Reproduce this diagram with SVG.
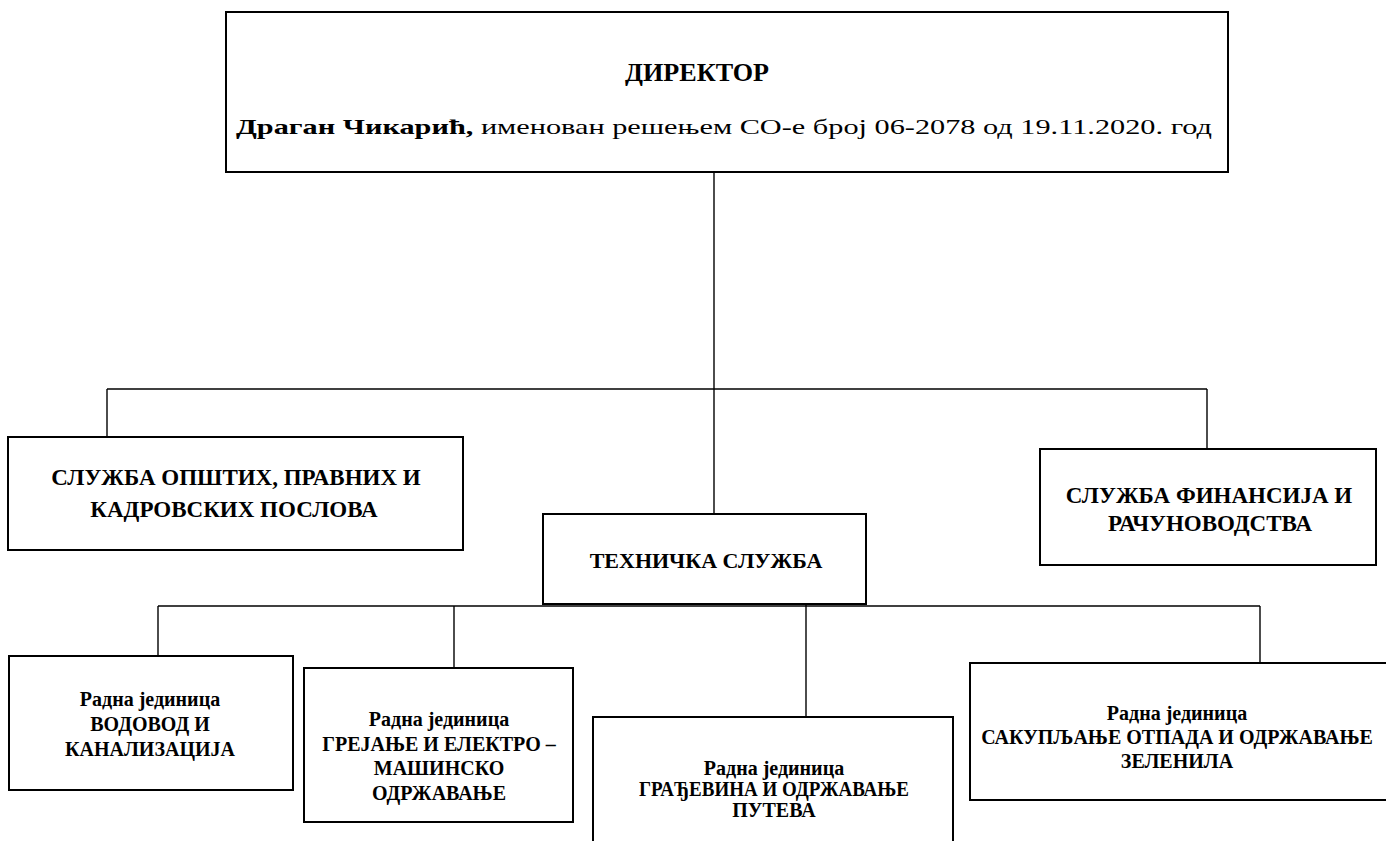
<svg xmlns="http://www.w3.org/2000/svg" width="1386" height="841" viewBox="0 0 1386 841">
<style>
.box{fill:#fff;stroke:#000;stroke-width:2}
.ln{stroke:#000;stroke-width:1.4;fill:none}
text{font-family:"Liberation Serif","DejaVu Serif",serif;fill:#000;text-anchor:middle}
.b{font-weight:bold}
.t2{font-size:23px}
.t3{font-size:20px}
</style>
<rect width="1386" height="841" fill="#fff"/>
<g id="connectors">
<line class="ln" x1="714" y1="172" x2="714" y2="514"/>
<line class="ln" x1="107" y1="389" x2="1207" y2="389"/>
<line class="ln" x1="107" y1="389" x2="107" y2="437"/>
<line class="ln" x1="1207" y1="389" x2="1207" y2="449"/>
<line class="ln" x1="158" y1="606" x2="1260" y2="606"/>
<line class="ln" x1="158" y1="606" x2="158" y2="656"/>
<line class="ln" x1="454" y1="606" x2="454" y2="668"/>
<line class="ln" x1="806" y1="604" x2="806" y2="717"/>
<line class="ln" x1="1260" y1="606" x2="1260" y2="663"/>
</g>
<g id="director">
<rect class="box" x="226" y="12" width="1002" height="160"/>
<text class="b" x="697" y="81" style="font-size:25px" textLength="144" lengthAdjust="spacingAndGlyphs">ДИРЕКТОР</text>
<text x="724" y="134" style="font-size:22px" textLength="976" lengthAdjust="spacingAndGlyphs"><tspan class="b">Драган Чикарић,</tspan> именован решењем СО-е број 06-2078 од 19.11.2020. год</text>
</g>
<g id="opsti">
<rect class="box" x="8" y="437" width="455" height="113"/>
<text class="b t2" x="236" y="485">СЛУЖБА ОПШТИХ, ПРАВНИХ И</text>
<text class="b t2" x="234" y="517">КАДРОВСКИХ ПОСЛОВА</text>
</g>
<g id="finansije">
<rect class="box" x="1040" y="449" width="336" height="116"/>
<text class="b t2" x="1209" y="503">СЛУЖБА ФИНАНСИЈА И</text>
<text class="b t2" x="1210" y="531">РАЧУНОВОДСТВА</text>
</g>
<g id="tehnicka">
<rect class="box" x="543" y="514" width="323" height="90"/>
<text class="b" x="706" y="568" style="font-size:22px">ТЕХНИЧКА СЛУЖБА</text>
</g>
<g id="rj1">
<rect class="box" x="9" y="656" width="284" height="134"/>
<text class="b t3" x="150" y="706">Радна јединица</text>
<text class="b t3" x="150" y="731">ВОДОВОД И</text>
<text class="b t3" x="150" y="756">КАНАЛИЗАЦИЈА</text>
</g>
<g id="rj2">
<rect class="box" x="304" y="668" width="269" height="154"/>
<text class="b t3" x="439" y="726">Радна јединица</text>
<text class="b t3" x="439" y="751">ГРЕЈАЊЕ И ЕЛЕКТРО –</text>
<text class="b t3" x="439" y="775">МАШИНСКО</text>
<text class="b t3" x="439" y="800">ОДРЖАВАЊЕ</text>
</g>
<g id="rj3">
<rect class="box" x="593" y="717" width="360" height="130"/>
<text class="b t3" x="774" y="775">Радна јединица</text>
<text class="b t3" x="774" y="796" textLength="270" lengthAdjust="spacingAndGlyphs">ГРАЂЕВИНА И ОДРЖАВАЊЕ</text>
<text class="b t3" x="774" y="817">ПУТЕВА</text>
</g>
<g id="rj4">
<rect class="box" x="970" y="663" width="420" height="137"/>
<text class="b t3" x="1177" y="720">Радна јединица</text>
<text class="b t3" x="1177" y="744">САКУПЉАЊЕ ОТПАДА И ОДРЖАВАЊЕ</text>
<text class="b t3" x="1177" y="768">ЗЕЛЕНИЛА</text>
</g>
</svg>
